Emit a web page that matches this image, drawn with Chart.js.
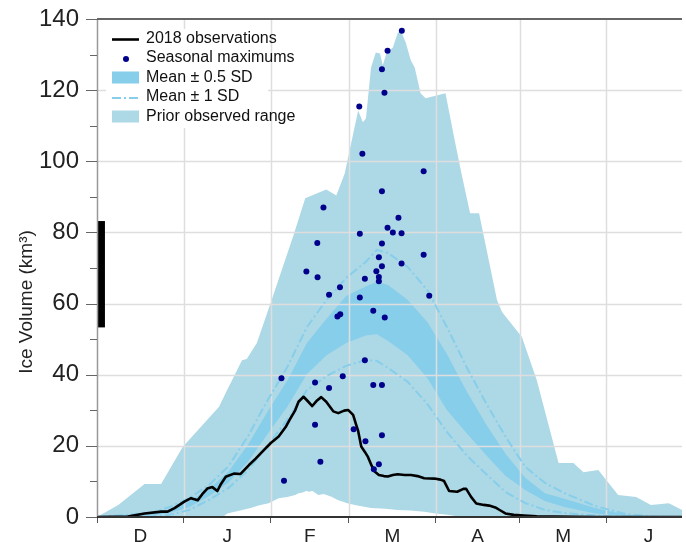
<!DOCTYPE html>
<html>
<head>
<meta charset="utf-8">
<script src="https://cdn.jsdelivr.net/npm/chart.js@4.4.1/dist/chart.umd.min.js"></script>
<style>
  html, body { margin: 0; padding: 0; background: #fff; }
  #caixa { width: 686px; height: 542px; }
</style>
</head>
<body>
<div id="caixa"><canvas id="grafico" width="686" height="542"></canvas></div>
<script>
const FONTE = "'Liberation Sans', Arial, Helvetica, sans-serif";

// eixo x: dias desde 1 de dezembro
const mesesLetras = ['D', 'J', 'F', 'M', 'A', 'M', 'J'];
const mesesInicio = [0, 31, 62, 90, 121, 151, 182];
const mesesMeio = [15.5, 46.5, 76, 105.5, 136, 166.5, 197];
const yRotulos = [0, 20, 40, 60, 80, 100, 120, 140];

// faixa observada anterior (max / min)
const faixaAltaDias = [0, 7.6, 17.0, 22.9, 30.6, 43.6, 46.5, 51.8, 53.5, 57.1, 62.0, 70.2, 74.4, 81.9, 85.5, 88.5, 90.8, 93.3, 95.0, 96.1, 97.9, 99.6, 101.1, 102.1, 103.5, 105.7, 107.4, 108.5, 110.3, 112.1, 113.5, 115.6, 117.4, 124.5, 128.0, 130.5, 133.3, 136.5, 142.9, 144.7, 151.8, 157.1, 164.9, 170.2, 173.8, 179.1, 186.2, 192.6, 197.9, 204.3, 209];
const faixaAlta = [0, 3.4, 9.3, 9.3, 19.7, 31.0, 35.7, 44.1, 44.4, 48.9, 60.1, 79.2, 89.6, 92.1, 90.4, 96.6, 105.1, 114.3, 111.0, 112.1, 126.4, 130.6, 130.3, 127.0, 130.6, 132.0, 136.0, 136.8, 133.4, 128.4, 126.4, 119.1, 117.7, 119.1, 105.1, 95.5, 85.4, 85.4, 61.0, 57.6, 50.6, 38.5, 15.2, 15.2, 12.6, 13.2, 6.2, 5.6, 3.4, 3.9, 2.0];
const faixaBaixaDias = [0, 45, 46.5, 50, 54.9, 58, 61.3, 64.9, 68, 70.8, 72, 73.5, 74.9, 75.5, 77, 79.1, 81, 83.8, 86, 89.7, 93, 97.9, 103, 107.4, 112, 116.9, 121, 125.2, 129.8, 131, 209];
const faixaBaixa = [0, 0, 1.0, 1.6, 2.5, 3.3, 3.9, 5.3, 5.6, 6.2, 6.7, 6.9, 7.4, 7.1, 7.3, 6.2, 6.5, 5.7, 4.8, 3.8, 3.2, 2.5, 2.3, 2.0, 1.8, 1.5, 1.0, 0.6, 0.1, 0, 0];

// media +/- desvios
const dpDias = [0, 12, 19, 26, 33, 40, 47, 54, 61, 68, 75, 82, 89, 96, 100, 104, 111, 118, 125, 132, 139, 146, 153, 160, 167, 178, 189, 200, 209];
const umDpAlto = [0, 0.7, 1.1, 2.8, 5.3, 9.0, 14.3, 22.8, 32.9, 42.2, 53.4, 61.0, 67.2, 71.7, 75.1, 74.2, 70.3, 63.8, 53.4, 42.2, 32.0, 22.5, 14.1, 9.6, 6.7, 3.1, 0.8, 0.1, 0];
const umDpBaixo = [0, 0.1, 0.1, 0.6, 2.0, 4.8, 8.2, 13.2, 20.2, 27.3, 35.7, 39.6, 42.5, 44.1, 43.9, 41.9, 38.0, 31.8, 23.9, 17.4, 12.1, 7.0, 3.9, 2.0, 1.1, 0.4, 0.1, 0, 0];
const meioDpAlto = [0, 0.5, 0.9, 2.2, 4.5, 7.9, 12.8, 20.4, 29.7, 38.4, 48.9, 55.7, 62.1, 64.8, 66.1, 65.2, 61.0, 54.8, 45.8, 35.4, 26.1, 17.7, 11.0, 6.7, 5.1, 2.5, 0.6, 0.1, 0];
const meioDpBaixo = [0, 0.2, 0.4, 1.1, 2.8, 5.8, 9.7, 15.6, 23.4, 31.0, 40.2, 45.5, 48.9, 51.0, 51.4, 49.5, 45.5, 39.1, 30.1, 23.6, 17.4, 11.5, 7.6, 4.5, 2.8, 1.0, 0.3, 0, 0];

// observacoes de 2018
const obsDias = [0, 11.0, 17.0, 23.0, 25.2, 27.7, 31.2, 33.6, 36.0, 37.6, 39.4, 41.2, 43.0, 44.3, 46.0, 48.9, 51.3, 54.3, 56.7, 59.6, 62.1, 64.9, 67.4, 68.8, 70.8, 72.0, 73.8, 75.5, 76.9, 78.4, 80.1, 81.9, 84.4, 86.2, 88.3, 89.7, 91.5, 92.6, 93.3, 94.4, 95.7, 96.8, 98.2, 99.3, 100.7, 102.5, 103.9, 105.7, 107.4, 109.9, 112.2, 114.5, 116.9, 120.5, 122.7, 124.0, 125.8, 128.7, 130.9, 131.9, 133.7, 135.5, 138.2, 140.1, 142.3, 144.0, 145.9, 148.9, 152.5, 157.1, 163.1, 178.4, 209];
const obsVolume = [0, 0.1, 1.0, 1.5, 1.5, 2.5, 4.3, 5.3, 4.7, 6.4, 8.0, 8.4, 7.3, 9.3, 11.3, 12.2, 12.1, 14.6, 16.4, 18.8, 20.8, 22.6, 25.3, 27.3, 30.0, 32.4, 33.8, 32.4, 31.2, 32.6, 33.7, 32.4, 29.7, 29.2, 29.9, 30.1, 28.7, 25.9, 24.2, 19.8, 18.3, 16.9, 14.3, 12.7, 11.8, 11.5, 11.4, 11.8, 12.0, 11.8, 11.8, 11.5, 10.9, 10.8, 10.5, 10.1, 7.3, 7.1, 7.9, 7.9, 5.6, 3.8, 3.4, 3.2, 2.7, 1.9, 1.0, 0.6, 0.4, 0.2, 0.1, 0, 0];

// maximos sazonais
const maxDias = [108.9, 103.8, 101.8, 102.7, 93.7, 94.8, 116.7, 101.8, 80.9, 107.7, 103.8, 105.7, 108.8, 93.9, 78.7, 101.8, 116.7, 100.7, 108.8, 101.8, 99.8, 74.8, 78.8, 100.7, 100.7, 95.7, 86.8, 82.9, 118.7, 93.9, 98.7, 102.8, 86.9, 85.9, 95.7, 87.8, 65.9, 77.9, 82.9, 98.7, 101.8, 77.9, 91.7, 95.9, 101.8, 79.8, 100.7, 98.9, 66.8];
const maxVolume = [136.7, 131.1, 125.9, 119.3, 115.4, 102.1, 97.2, 91.6, 87.0, 84.1, 81.3, 80.0, 79.8, 79.6, 77.0, 76.9, 73.7, 73.0, 71.3, 70.5, 69.1, 69.0, 67.4, 67.5, 66.3, 67.0, 64.6, 62.5, 62.2, 61.7, 58.0, 56.1, 57.0, 56.4, 44.1, 39.6, 39.0, 37.8, 36.3, 37.1, 37.1, 25.9, 24.7, 21.3, 23.0, 15.5, 14.8, 13.4, 10.2];

// barra preta junto ao eixo
const barraDia = 1.5;
const barraFaixa = [53.3, 83.2];

function pontos(xs, ys) {
  return xs.map((x, i) => ({ x: x, y: ys[i] }));
}

const CLARO = '#ADD8E6';
const ESCURO = '#87CEEB';
const TRACO = [9, 3, 2, 3];

const gradeSobre = {
  id: 'gradeSobre',
  beforeDatasetDraw(chart, args) {
    if (!chart.data.datasets[args.index].grade) return;
    const { ctx, chartArea } = chart;
    const x = chart.scales.x, y = chart.scales.y;
    ctx.save();
    ctx.strokeStyle = '#dedede';
    ctx.lineWidth = 1.5;
    mesesInicio.slice(1).forEach((d) => {
      const px = Math.round(x.getPixelForValue(d)) + 0.5;
      ctx.beginPath();
      ctx.moveTo(px, chartArea.top);
      ctx.lineTo(px, chartArea.bottom);
      ctx.stroke();
    });
    yRotulos.slice(1, -1).forEach((v) => {
      const py = Math.round(y.getPixelForValue(v)) + 0.5;
      ctx.beginPath();
      ctx.moveTo(chartArea.left, py);
      ctx.lineTo(chartArea.right, py);
      ctx.stroke();
    });
    ctx.restore();
  }
};

const molduraLegenda = {
  id: 'molduraLegenda',
  afterDraw(chart) {
    const { ctx, chartArea } = chart;
    const y = chart.scales.y;
    ctx.save();
    // eixo esquerdo e marcas
    ctx.strokeStyle = '#999';
    ctx.lineWidth = 1.5;
    ctx.beginPath();
    ctx.moveTo(chartArea.left + 0.5, chartArea.top);
    ctx.lineTo(chartArea.left + 0.5, chartArea.bottom);
    ctx.stroke();
    ctx.strokeStyle = '#666';
    ctx.lineWidth = 1;
    for (let v = 0; v <= 140; v += 10) {
      const py = Math.round(y.getPixelForValue(v)) + 0.5;
      const len = v % 20 === 0 ? 11 : 7;
      ctx.beginPath();
      ctx.moveTo(chartArea.left - len, py);
      ctx.lineTo(chartArea.left, py);
      ctx.stroke();
    }

    // legenda (fundo branco)
    ctx.fillStyle = '#fff';
    ctx.fillRect(106, 29, 162, 99);

    // borda superior e eixo inferior
    ctx.strokeStyle = '#666';
    ctx.lineWidth = 2;
    ctx.beginPath();
    ctx.moveTo(chartArea.left, chartArea.top);
    ctx.lineTo(chartArea.right, chartArea.top);
    ctx.stroke();
    ctx.strokeStyle = '#333';
    ctx.beginPath();
    ctx.moveTo(chartArea.left, chartArea.bottom);
    ctx.lineTo(chartArea.right, chartArea.bottom);
    ctx.stroke();

    // titulo do eixo y
    ctx.save();
    ctx.translate(27, 302);
    ctx.rotate(-Math.PI / 2);
    ctx.fillStyle = '#222';
    ctx.font = '19px ' + FONTE;
    ctx.textAlign = 'center';
    ctx.textBaseline = 'middle';
    ctx.fillText('Ice Volume (km\u00b3)', 0, 0);
    ctx.restore();

    const x0 = 112, x1 = 139, tx = 146;
    const linhas = [38.5, 58, 77.5, 97, 116.5];
    ctx.strokeStyle = '#000';
    ctx.lineWidth = 2.6;
    ctx.beginPath(); ctx.moveTo(x0, linhas[0] + 1); ctx.lineTo(x1, linhas[0] + 1); ctx.stroke();
    ctx.fillStyle = '#00008B';
    ctx.beginPath(); ctx.arc(126, linhas[1] + 1, 3, 0, Math.PI * 2); ctx.fill();
    ctx.fillStyle = ESCURO;
    ctx.fillRect(x0, linhas[2] - 6, x1 - x0, 12);
    ctx.strokeStyle = ESCURO;
    ctx.lineWidth = 2;
    ctx.setLineDash(TRACO);
    ctx.beginPath(); ctx.moveTo(x0, linhas[3] + 1); ctx.lineTo(x1, linhas[3] + 1); ctx.stroke();
    ctx.setLineDash([]);
    ctx.fillStyle = CLARO;
    ctx.fillRect(x0, linhas[4] - 6, x1 - x0, 12);
    const textos = ['2018 observations', 'Seasonal maximums', 'Mean \u00b1 0.5 SD', 'Mean \u00b1 1 SD', 'Prior observed range'];
    ctx.fillStyle = '#111';
    ctx.font = '16px ' + FONTE;
    ctx.textBaseline = 'middle';
    ctx.textAlign = 'left';
    textos.forEach((t, i) => ctx.fillText(t, tx, linhas[i]));
    ctx.restore();
  }
};

const semLinha = 'rgba(0,0,0,0)';

new Chart(document.getElementById('grafico').getContext('2d'), {
  type: 'line',
  data: {
    datasets: [
      { label: 'Prior observed range', data: pontos(faixaAltaDias, faixaAlta), fill: '+1', backgroundColor: CLARO, borderColor: semLinha, borderWidth: 0, pointRadius: 0, order: 10 },
      { label: 'faixa minima', data: pontos(faixaBaixaDias, faixaBaixa), fill: false, borderColor: semLinha, borderWidth: 0, pointRadius: 0, order: 9 },
      { label: 'Mean \u00b1 0.5 SD', data: pontos(dpDias, meioDpAlto), fill: '+1', backgroundColor: ESCURO, borderColor: semLinha, borderWidth: 0, pointRadius: 0, order: 8 },
      { label: 'meio dp baixo', data: pontos(dpDias, meioDpBaixo), fill: false, borderColor: semLinha, borderWidth: 0, pointRadius: 0, order: 7 },
      { label: 'Mean \u00b1 1 SD', data: pontos(dpDias, umDpAlto), fill: false, borderColor: ESCURO, borderWidth: 2, borderDash: TRACO, pointRadius: 0, order: 6, grade: true },
      { label: 'um dp baixo', data: pontos(dpDias, umDpBaixo), fill: false, borderColor: ESCURO, borderWidth: 2, borderDash: TRACO, pointRadius: 0, order: 5 },
      { label: '2018 observations', data: pontos(obsDias, obsVolume), fill: false, borderColor: '#000', borderWidth: 2.6, pointRadius: 0, borderJoinStyle: 'round', order: 3 },
      { label: 'Seasonal maximums', data: pontos(maxDias, maxVolume), showLine: false, pointRadius: 3, pointBackgroundColor: '#00008B', pointBorderWidth: 0, pointBorderColor: '#00008B', order: 2 },
      { label: 'barra', data: [{ x: barraDia, y: barraFaixa[0] }, { x: barraDia, y: barraFaixa[1] }], fill: false, borderColor: '#000', borderWidth: 7.5, borderCapStyle: 'butt', pointRadius: 0, order: 1 }
    ]
  },
  options: {
    responsive: false,
    animation: false,
    devicePixelRatio: 1,
    layout: { padding: { top: 19, right: 0, left: 0, bottom: 0 } },
    elements: { line: { tension: 0 } },
    plugins: {
      legend: { display: false },
      tooltip: { enabled: false }
    },
    scales: {
      x: {
        type: 'linear',
        min: 0,
        max: 209,
        afterFit(scale) {
          scale.height = 25;
          scale.paddingLeft = 0;
          scale.paddingRight = 0;
        },
        afterBuildTicks(scale) {
          scale.ticks = mesesInicio.concat(mesesMeio).sort((a, b) => a - b).map((v) => ({ value: v }));
        },
        ticks: {
          autoSkip: false,
          maxRotation: 0,
          padding: 2,
          color: '#222',
          font: { family: FONTE, size: 19 },
          callback(valor) {
            const i = mesesMeio.indexOf(valor);
            return i >= 0 ? mesesLetras[i] : '';
          }
        },
        grid: {
          drawOnChartArea: false,
          drawTicks: true,
          tickLength: 6,
          tickWidth: 1,
          tickColor(ctx) {
            return ctx.tick && mesesInicio.includes(ctx.tick.value) ? '#555' : 'rgba(0,0,0,0)';
          }
        },
        border: { display: false }
      },
      y: {
        min: 0,
        max: 140,
        afterFit(scale) {
          scale.width = 97;
          scale.paddingTop = 0;
          scale.paddingBottom = 0;
        },
        afterBuildTicks(scale) {
          scale.ticks = yRotulos.map((v) => ({ value: v }));
        },
        ticks: {
          padding: 18,
          color: '#222',
          font: { family: FONTE, size: 24 }
        },
        grid: { drawOnChartArea: false, drawTicks: false },
        border: { display: false }
      }
    }
  },
  plugins: [gradeSobre, molduraLegenda]
});
</script>
</body>
</html>
